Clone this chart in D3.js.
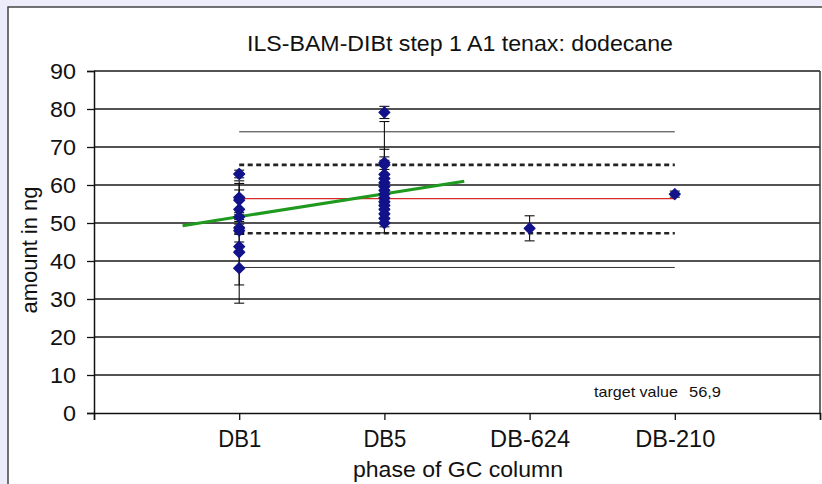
<!DOCTYPE html>
<html>
<head>
<meta charset="utf-8">
<script src="https://cdn.jsdelivr.net/npm/d3@7/dist/d3.min.js"></script>
<style>
  html, body { margin: 0; padding: 0; background: #ececfa; }
  svg { display: block; }
  text { font-family: "Liberation Sans", Arial, sans-serif; fill: #111; }
</style>
</head>
<body>
<svg id="chart" width="822" height="484"></svg>
<script>
// ---------- data ----------
const categories = ["DB1", "DB5", "DB-624", "DB-210"];
const yTicks = [0, 10, 20, 30, 40, 50, 60, 70, 80, 90];

const db1Values = [62.9, 56.7, 56.0, 53.6, 51.6, 48.7, 48.0, 43.8, 42.3, 38.1];
const db1Errors = [1.0, 4.4, 4.4, 5.1, 1.2, 1.0, 1.0, 1.2, 8.6, 9.2];

const db5Values = [79.1, 65.9, 65.3, 62.8, 61.7, 60.6, 59.6, 58.6, 57.6, 56.6, 55.6, 54.6, 53.6, 52.4, 51.2, 50.0];
const db5Errors = [1.6, 10.8, 1.2, 6.6, 1.0, 6.8, 1.0, 1.0, 1.0, 9.2, 1.0, 1.0, 1.0, 1.0, 1.0, 1.0];

const db624Values = [48.6];
const db624Errors = [3.3];

const db210Values = [57.6];
const db210Errors = [0.8];

const meanValue = 56.4;            // red line
const innerLimits = [65.3, 47.3];  // dotted lines
const outerLimits = [74.0, 38.3];  // thin solid lines
const refSpan = [1, 4];            // from DB1 to DB-210 (category index, 1-based)

const trendX = [0.61, 2.55];       // linear trend line (category units)
const trendY = [49.3, 61.0];

const targetLabel = "target value";
const targetValue = "56,9";

// ---------- layout ----------
const svg = d3.select("#chart");
const W = 822, H = 484;
const plot = { left: 94, right: 820, top: 71, bottom: 413 };

// white panel
svg.append("rect")
  .attr("x", 8).attr("y", 7).attr("width", W).attr("height", H)
  .attr("fill", "#ffffff").attr("stroke", "#444").attr("stroke-width", 1.5);

const x = d3.scaleLinear().domain([0, categories.length + 1]).range([plot.left, plot.right]);
const y = d3.scaleLinear().domain([0, 90]).range([plot.bottom, plot.top]);

// gridlines
svg.append("g").selectAll("line").data(yTicks.filter(d => d > 0)).join("line")
  .attr("x1", plot.left).attr("x2", plot.right)
  .attr("y1", d => y(d)).attr("y2", d => y(d))
  .attr("stroke", "#1a1a1a").attr("stroke-width", 1.6);

// right border of plot area
svg.append("line")
  .attr("x1", plot.right).attr("x2", plot.right)
  .attr("y1", plot.top).attr("y2", plot.bottom)
  .attr("stroke", "#333").attr("stroke-width", 1.5);

// y axis
const yAxis = d3.axisLeft(y).tickValues(yTicks).tickSize(7).tickPadding(11);
const gy = svg.append("g").attr("transform", `translate(${plot.left},0)`).call(yAxis);
gy.select(".domain").attr("stroke", "#111").attr("stroke-width", 1.5);
gy.selectAll(".tick line").attr("stroke", "#111").attr("stroke-width", 1.3);
gy.selectAll(".tick text")
  .style("font-size", "22px").attr("fill", "#111")
  .attr("textLength", d => String(d).length * 13).attr("lengthAdjust", "spacingAndGlyphs");

// x axis
const xTickVals = d3.range(0, categories.length + 2);
const xAxis = d3.axisBottom(x).tickValues(xTickVals).tickSize(7)
  .tickFormat(d => (d >= 1 && d <= categories.length) ? categories[d - 1] : "");
const gx = svg.append("g").attr("transform", `translate(0,${plot.bottom})`).call(xAxis);
gx.select(".domain").attr("stroke", "#111").attr("stroke-width", 1.5);
gx.selectAll(".tick line").attr("stroke", "#111").attr("stroke-width", 1.3);
const xLabelWidths = { "DB1": 43, "DB5": 43, "DB-624": 80, "DB-210": 80 };
gx.selectAll(".tick text")
  .style("font-size", "23px").attr("fill", "#111")
  .attr("y", 18)
  .each(function(d) {
    const t = (d >= 1 && d <= categories.length) ? categories[d - 1] : "";
    if (t) d3.select(this).attr("textLength", xLabelWidths[t]).attr("lengthAdjust", "spacingAndGlyphs");
  });

// outer thin solid limit lines
svg.append("g").selectAll("line").data(outerLimits).join("line")
  .attr("x1", x(refSpan[0])).attr("x2", x(refSpan[1]))
  .attr("y1", d => y(d)).attr("y2", d => y(d))
  .attr("stroke", "#333").attr("stroke-width", 1);

// dotted inner limit lines
svg.append("g").selectAll("line").data(innerLimits).join("line")
  .attr("x1", x(refSpan[0])).attr("x2", x(refSpan[1]))
  .attr("y1", d => y(d)).attr("y2", d => y(d))
  .attr("stroke", "#222").attr("stroke-width", 2.6).attr("stroke-dasharray", "5,3.5");

// red mean line
svg.append("line")
  .attr("x1", x(refSpan[0])).attr("x2", x(refSpan[1]))
  .attr("y1", y(meanValue)).attr("y2", y(meanValue))
  .attr("stroke", "#d42a2a").attr("stroke-width", 1.2);

// series
const series = [
  { idx: 1, values: db1Values, errors: db1Errors },
  { idx: 2, values: db5Values, errors: db5Errors },
  { idx: 3, values: db624Values, errors: db624Errors },
  { idx: 4, values: db210Values, errors: db210Errors }
];
const pts = [];
series.forEach(s => s.values.forEach((v, i) => pts.push({ cx: s.idx, v, e: s.errors[i] })));

// error bars
const eb = svg.append("g").attr("stroke", "#111").attr("stroke-width", 1.1);
pts.forEach(p => {
  const cx = x(p.cx);
  eb.append("line").attr("x1", cx).attr("x2", cx).attr("y1", y(p.v - p.e)).attr("y2", y(p.v + p.e));
  [p.v - p.e, p.v + p.e].forEach(c => {
    eb.append("line").attr("x1", cx - 5).attr("x2", cx + 5).attr("y1", y(c)).attr("y2", y(c));
  });
});

// trend line (green)
svg.append("line")
  .attr("x1", x(trendX[0])).attr("x2", x(trendX[1]))
  .attr("y1", y(trendY[0])).attr("y2", y(trendY[1]))
  .attr("stroke", "#1f9a1f").attr("stroke-width", 3);

// markers
const sym = d3.symbol(d3.symbolSquare, 60);
svg.append("g").selectAll("path").data(pts).join("path")
  .attr("d", sym)
  .attr("transform", d => `translate(${x(d.cx)},${y(d.v)}) rotate(45)`)
  .attr("fill", "#12128a").attr("stroke", "#12128a").attr("stroke-width", 1.2)
  .attr("stroke-linejoin", "round");

// title
svg.append("text")
  .attr("x", 460).attr("y", 51).attr("text-anchor", "middle")
  .style("font-size", "22px")
  .attr("textLength", 426).attr("lengthAdjust", "spacingAndGlyphs")
  .text("ILS-BAM-DIBt step 1 A1 tenax: dodecane");

// axis titles
svg.append("text")
  .attr("x", 458).attr("y", 477).attr("text-anchor", "middle")
  .style("font-size", "22px")
  .attr("textLength", 210).attr("lengthAdjust", "spacingAndGlyphs")
  .text("phase of GC column");

svg.append("text")
  .attr("transform", "translate(37,250) rotate(-90)").attr("text-anchor", "middle")
  .style("font-size", "22px")
  .attr("textLength", 127).attr("lengthAdjust", "spacingAndGlyphs")
  .text("amount in ng");

// target value note
svg.append("text")
  .attr("x", 594).attr("y", 397)
  .style("font-size", "15px")
  .attr("textLength", 84).attr("lengthAdjust", "spacingAndGlyphs")
  .text(targetLabel);
svg.append("text")
  .attr("x", 721).attr("y", 397).attr("text-anchor", "end")
  .style("font-size", "15px")
  .attr("textLength", 32).attr("lengthAdjust", "spacingAndGlyphs")
  .text(targetValue);
</script>
</body>
</html>
